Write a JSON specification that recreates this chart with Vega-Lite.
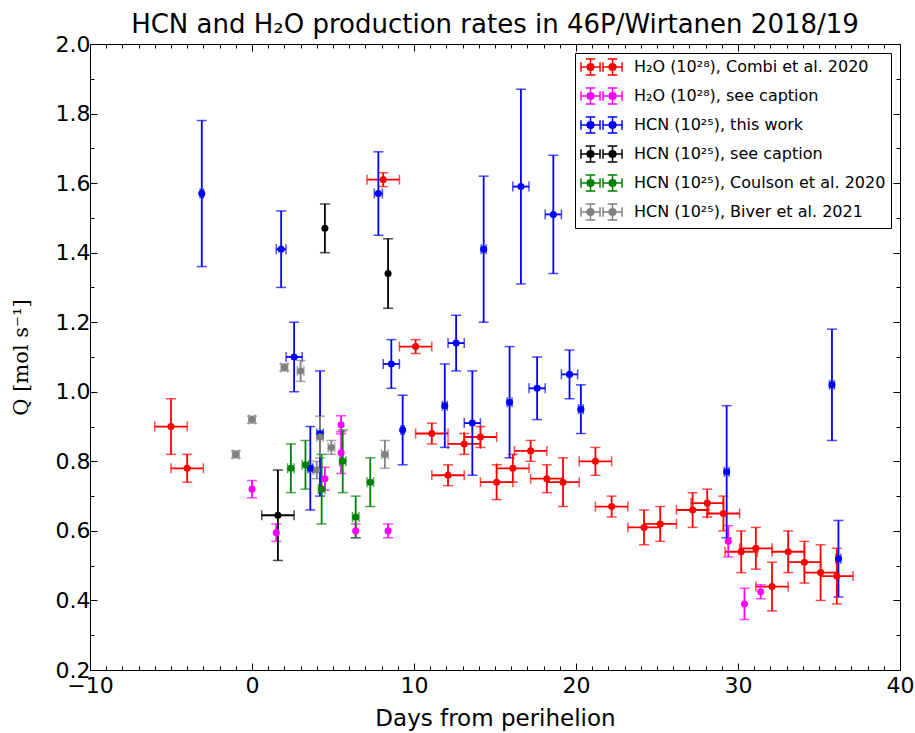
{
  "$schema": "https://vega.github.io/schema/vega-lite/v6.json",
  "width": 810,
  "height": 626,
  "autosize": {"type": "none"},
  "padding": {"left": 90, "top": 44, "right": 15, "bottom": 63},
  "background": "white",
  "title": {"text": "HCN and H₂O production rates in 46P/Wirtanen 2018/19", "font": "DejaVu Sans", "fontSize": 26, "fontWeight": "normal", "color": "black", "offset": -5},
  "config": {
    "view": {"stroke": null},
    "axis": {"domainColor": "black", "domainWidth": 1, "tickColor": "black", "tickWidth": 1, "labelFont": "DejaVu Sans", "labelFontSize": 22, "labelColor": "black", "titleFont": "DejaVu Sans", "titleFontSize": 22, "titleFontWeight": "normal", "titleColor": "black", "grid": false}
  },
  "data": {"values": [
    {"s": "H₂O (10²⁸), Combi et al. 2020", "d": -5.0, "q": 0.90, "qe": 0.08, "de": 1.0},
    {"s": "H₂O (10²⁸), Combi et al. 2020", "d": -4.0, "q": 0.78, "qe": 0.04, "de": 1.0},
    {"s": "H₂O (10²⁸), Combi et al. 2020", "d": 8.1, "q": 1.61, "qe": 0.02, "de": 1.0},
    {"s": "H₂O (10²⁸), Combi et al. 2020", "d": 10.1, "q": 1.13, "qe": 0.02, "de": 1.0},
    {"s": "H₂O (10²⁸), Combi et al. 2020", "d": 11.1, "q": 0.88, "qe": 0.03, "de": 1.0},
    {"s": "H₂O (10²⁸), Combi et al. 2020", "d": 12.1, "q": 0.76, "qe": 0.03, "de": 1.0},
    {"s": "H₂O (10²⁸), Combi et al. 2020", "d": 13.1, "q": 0.85, "qe": 0.03, "de": 1.0},
    {"s": "H₂O (10²⁸), Combi et al. 2020", "d": 14.1, "q": 0.87, "qe": 0.03, "de": 1.0},
    {"s": "H₂O (10²⁸), Combi et al. 2020", "d": 15.1, "q": 0.74, "qe": 0.05, "de": 1.0},
    {"s": "H₂O (10²⁸), Combi et al. 2020", "d": 16.1, "q": 0.78, "qe": 0.04, "de": 1.0},
    {"s": "H₂O (10²⁸), Combi et al. 2020", "d": 17.2, "q": 0.83, "qe": 0.03, "de": 1.0},
    {"s": "H₂O (10²⁸), Combi et al. 2020", "d": 18.2, "q": 0.75, "qe": 0.04, "de": 1.0},
    {"s": "H₂O (10²⁸), Combi et al. 2020", "d": 19.2, "q": 0.74, "qe": 0.07, "de": 1.0},
    {"s": "H₂O (10²⁸), Combi et al. 2020", "d": 21.2, "q": 0.80, "qe": 0.04, "de": 1.0},
    {"s": "H₂O (10²⁸), Combi et al. 2020", "d": 22.2, "q": 0.67, "qe": 0.03, "de": 1.0},
    {"s": "H₂O (10²⁸), Combi et al. 2020", "d": 24.2, "q": 0.61, "qe": 0.05, "de": 1.0},
    {"s": "H₂O (10²⁸), Combi et al. 2020", "d": 25.2, "q": 0.62, "qe": 0.05, "de": 1.0},
    {"s": "H₂O (10²⁸), Combi et al. 2020", "d": 27.2, "q": 0.66, "qe": 0.05, "de": 1.0},
    {"s": "H₂O (10²⁸), Combi et al. 2020", "d": 28.1, "q": 0.68, "qe": 0.04, "de": 1.0},
    {"s": "H₂O (10²⁸), Combi et al. 2020", "d": 29.1, "q": 0.65, "qe": 0.05, "de": 1.0},
    {"s": "H₂O (10²⁸), Combi et al. 2020", "d": 30.2, "q": 0.54, "qe": 0.06, "de": 1.0},
    {"s": "H₂O (10²⁸), Combi et al. 2020", "d": 31.1, "q": 0.55, "qe": 0.06, "de": 1.0},
    {"s": "H₂O (10²⁸), Combi et al. 2020", "d": 32.1, "q": 0.44, "qe": 0.07, "de": 1.0},
    {"s": "H₂O (10²⁸), Combi et al. 2020", "d": 33.1, "q": 0.54, "qe": 0.06, "de": 1.0},
    {"s": "H₂O (10²⁸), Combi et al. 2020", "d": 34.1, "q": 0.51, "qe": 0.06, "de": 1.0},
    {"s": "H₂O (10²⁸), Combi et al. 2020", "d": 35.1, "q": 0.48, "qe": 0.08, "de": 1.0},
    {"s": "H₂O (10²⁸), Combi et al. 2020", "d": 36.1, "q": 0.47, "qe": 0.08, "de": 1.0},
    {"s": "H₂O (10²⁸), see caption", "d": 0.0, "q": 0.72, "qe": 0.025, "de": 0},
    {"s": "H₂O (10²⁸), see caption", "d": 1.5, "q": 0.595, "qe": 0.025, "de": 0},
    {"s": "H₂O (10²⁸), see caption", "d": 4.5, "q": 0.75, "qe": 0.033, "de": 0},
    {"s": "H₂O (10²⁸), see caption", "d": 5.5, "q": 0.905, "qe": 0.026, "de": 0},
    {"s": "H₂O (10²⁸), see caption", "d": 5.5, "q": 0.825, "qe": 0.06, "de": 0},
    {"s": "H₂O (10²⁸), see caption", "d": 6.4, "q": 0.60, "qe": 0.02, "de": 0},
    {"s": "H₂O (10²⁸), see caption", "d": 8.4, "q": 0.60, "qe": 0.02, "de": 0},
    {"s": "H₂O (10²⁸), see caption", "d": 29.4, "q": 0.57, "qe": 0.045, "de": 0},
    {"s": "H₂O (10²⁸), see caption", "d": 30.4, "q": 0.39, "qe": 0.045, "de": 0},
    {"s": "H₂O (10²⁸), see caption", "d": 31.4, "q": 0.425, "qe": 0.02, "de": 0},
    {"s": "HCN (10²⁵), this work", "d": -3.1, "q": 1.57, "qe": 0.21, "de": 0.1},
    {"s": "HCN (10²⁵), this work", "d": 1.8, "q": 1.41, "qe": 0.11, "de": 0.3},
    {"s": "HCN (10²⁵), this work", "d": 2.6, "q": 1.10, "qe": 0.10, "de": 0.5},
    {"s": "HCN (10²⁵), this work", "d": 3.6, "q": 0.78, "qe": 0.12, "de": 0.15},
    {"s": "HCN (10²⁵), this work", "d": 4.2, "q": 0.88, "qe": 0.18, "de": 0.2},
    {"s": "HCN (10²⁵), this work", "d": 7.8, "q": 1.57, "qe": 0.12, "de": 0.25},
    {"s": "HCN (10²⁵), this work", "d": 8.6, "q": 1.08, "qe": 0.07, "de": 0.5},
    {"s": "HCN (10²⁵), this work", "d": 9.3, "q": 0.89, "qe": 0.10, "de": 0.1},
    {"s": "HCN (10²⁵), this work", "d": 11.9, "q": 0.96, "qe": 0.12, "de": 0.15},
    {"s": "HCN (10²⁵), this work", "d": 12.6, "q": 1.14, "qe": 0.08, "de": 0.5},
    {"s": "HCN (10²⁵), this work", "d": 13.6, "q": 0.91, "qe": 0.15, "de": 0.5},
    {"s": "HCN (10²⁵), this work", "d": 14.3, "q": 1.41, "qe": 0.21, "de": 0.15},
    {"s": "HCN (10²⁵), this work", "d": 15.9, "q": 0.97, "qe": 0.16, "de": 0.15},
    {"s": "HCN (10²⁵), this work", "d": 16.6, "q": 1.59, "qe": 0.28, "de": 0.5},
    {"s": "HCN (10²⁵), this work", "d": 17.6, "q": 1.01, "qe": 0.09, "de": 0.5},
    {"s": "HCN (10²⁵), this work", "d": 18.6, "q": 1.51, "qe": 0.17, "de": 0.5},
    {"s": "HCN (10²⁵), this work", "d": 19.6, "q": 1.05, "qe": 0.07, "de": 0.5},
    {"s": "HCN (10²⁵), this work", "d": 20.3, "q": 0.95, "qe": 0.07, "de": 0.15},
    {"s": "HCN (10²⁵), this work", "d": 29.3, "q": 0.77, "qe": 0.19, "de": 0.15},
    {"s": "HCN (10²⁵), this work", "d": 35.8, "q": 1.02, "qe": 0.16, "de": 0.15},
    {"s": "HCN (10²⁵), this work", "d": 36.2, "q": 0.52, "qe": 0.11, "de": 0.15},
    {"s": "HCN (10²⁵), see caption", "d": 1.6, "q": 0.645, "qe": 0.13, "de": 1.0},
    {"s": "HCN (10²⁵), see caption", "d": 4.5, "q": 1.47, "qe": 0.07, "de": 0},
    {"s": "HCN (10²⁵), see caption", "d": 8.4, "q": 1.34, "qe": 0.10, "de": 0},
    {"s": "HCN (10²⁵), Coulson et al. 2020", "d": 2.4, "q": 0.78, "qe": 0.07, "de": 0.2},
    {"s": "HCN (10²⁵), Coulson et al. 2020", "d": 3.3, "q": 0.79, "qe": 0.07, "de": 0.2},
    {"s": "HCN (10²⁵), Coulson et al. 2020", "d": 4.3, "q": 0.72, "qe": 0.10, "de": 0.2},
    {"s": "HCN (10²⁵), Coulson et al. 2020", "d": 5.6, "q": 0.80, "qe": 0.09, "de": 0.2},
    {"s": "HCN (10²⁵), Coulson et al. 2020", "d": 6.4, "q": 0.64, "qe": 0.06, "de": 0.2},
    {"s": "HCN (10²⁵), Coulson et al. 2020", "d": 7.3, "q": 0.74, "qe": 0.07, "de": 0.2},
    {"s": "HCN (10²⁵), Biver et al. 2021", "d": -1.0, "q": 0.82, "qe": 0.01, "de": 0.2},
    {"s": "HCN (10²⁵), Biver et al. 2021", "d": 0.0, "q": 0.92, "qe": 0.01, "de": 0.2},
    {"s": "HCN (10²⁵), Biver et al. 2021", "d": 2.0, "q": 1.07, "qe": 0.01, "de": 0.2},
    {"s": "HCN (10²⁵), Biver et al. 2021", "d": 3.0, "q": 1.06, "qe": 0.03, "de": 0.2},
    {"s": "HCN (10²⁵), Biver et al. 2021", "d": 4.2, "q": 0.87, "qe": 0.06, "de": 0.2},
    {"s": "HCN (10²⁵), Biver et al. 2021", "d": 4.9, "q": 0.84, "qe": 0.02, "de": 0.2},
    {"s": "HCN (10²⁵), Biver et al. 2021", "d": 4.0, "q": 0.775, "qe": 0.025, "de": 0.2},
    {"s": "HCN (10²⁵), Biver et al. 2021", "d": 8.2, "q": 0.82, "qe": 0.04, "de": 0.2}
  ]},
  "resolve": {"axis": {"x": "independent", "y": "independent"}},
  "layer": [
    {
      "transform": [{"filter": "datum.de > 0"}],
      "mark": {"type": "errorbar", "thickness": 1.8, "ticks": {"size": 10, "thickness": 1.5}},
      "encoding": {
        "x": {"field": "d", "type": "quantitative", "scale": {"domain": [-10, 40], "nice": false, "zero": false}, "axis": null},
        "xError": {"field": "de"},
        "y": {"field": "q", "type": "quantitative", "scale": {"domain": [0.2, 2.0], "nice": false, "zero": false}, "axis": null},
        "color": {"field": "s", "type": "nominal", "scale": {"domain": ["H₂O (10²⁸), Combi et al. 2020", "H₂O (10²⁸), see caption", "HCN (10²⁵), this work", "HCN (10²⁵), see caption", "HCN (10²⁵), Coulson et al. 2020", "HCN (10²⁵), Biver et al. 2021"], "range": ["#ff0000", "#ff00ff", "#0000ff", "#000000", "#008000", "#808080"]},
          "legend": {"orient": "top-right", "offset": 9, "title": null, "strokeColor": "black", "fillColor": "white", "padding": 5,
            "labelFont": "DejaVu Sans", "labelFontSize": 16, "labelColor": "black", "labelOffset": 36, "labelLimit": 400, "rowPadding": 7,
            "symbolSize": 256, "symbolStrokeWidth": 1.5,
            "symbolType": "M-1,0L1.38,0M-1,-0.6L-1,0.6M1.38,-0.6L1.38,0.6M0.19,-1L0.19,1M-0.41,-1L0.79,-1M-0.41,1L0.79,1M0.61,0A0.42,0.42,0,1,1,-0.23,0A0.42,0.42,0,1,1,0.61,0ZM1.75,0L4.13,0M1.75,-0.6L1.75,0.6M4.13,-0.6L4.13,0.6M2.94,-1L2.94,1M2.34,-1L3.54,-1M2.34,1L3.54,1M3.36,0A0.42,0.42,0,1,1,2.52,0A0.42,0.42,0,1,1,3.36,0Z",
            "encode": {"symbols": {"update": {"stroke": {"scale": "color", "field": "value"}, "fill": {"scale": "color", "field": "value"}, "strokeWidth": {"value": 1.5}, "opacity": {"value": 1}}}}}}
      }
    },
    {
      "mark": {"type": "errorbar", "thickness": 1.8, "ticks": {"size": 10, "thickness": 1.5}},
      "encoding": {
        "x": {"field": "d", "type": "quantitative", "scale": {"domain": [-10, 40], "nice": false, "zero": false}, "axis": null},
        "y": {"field": "q", "type": "quantitative", "scale": {"domain": [0.2, 2.0], "nice": false, "zero": false}, "axis": null},
        "yError": {"field": "qe"},
        "color": {"field": "s", "type": "nominal"}
      }
    },
    {
      "mark": {"type": "point", "filled": true, "opacity": 1, "size": 50, "shape": "circle"},
      "encoding": {
        "x": {"field": "d", "type": "quantitative", "scale": {"domain": [-10, 40], "nice": false, "zero": false},
          "axis": {"orient": "bottom", "values": [-10,-9,-8,-7,-6,-5,-4,-3,-2,-1,0,1,2,3,4,5,6,7,8,9,10,11,12,13,14,15,16,17,18,19,20,21,22,23,24,25,26,27,28,29,30,31,32,33,34,35,36,37,38,39,40],
            "format": "d", "labelExpr": "datum.value % 10 === 0 ? datum.label : ''", "labelFlush": false, "labelOverlap": false, "labelBound": false,
            "tickSize": {"condition": {"test": "datum.value % 10 === 0", "value": -7}, "value": -4},
            "labelPadding": 12, "title": "Days from perihelion", "titleFontSize": 23, "titlePadding": 8}},
        "y": {"field": "q", "type": "quantitative", "scale": {"domain": [0.2, 2.0], "nice": false, "zero": false},
          "axis": {"orient": "left", "values": [0.2,0.3,0.4,0.5,0.6,0.7,0.8,0.9,1.0,1.1,1.2,1.3,1.4,1.5,1.6,1.7,1.8,1.9,2.0],
            "labelExpr": "round(datum.value * 10) % 2 === 0 ? format(datum.value, '.1f') : ''", "labelFlush": false, "labelOverlap": false, "labelBound": false,
            "tickSize": {"condition": {"test": "round(datum.value * 10) % 2 === 0", "value": -7}, "value": -4},
            "labelPadding": 7, "title": "Q  [mol s⁻¹]", "titleFont": "DejaVu Serif", "titleFontSize": 21, "titlePadding": 24}},
        "color": {"field": "s", "type": "nominal"}
      }
    },
    {
      "mark": {"type": "point", "opacity": 0},
      "encoding": {
        "x": {"field": "d", "type": "quantitative", "scale": {"domain": [-10, 40], "nice": false, "zero": false},
          "axis": {"orient": "top", "values": [-10,-9,-8,-7,-6,-5,-4,-3,-2,-1,0,1,2,3,4,5,6,7,8,9,10,11,12,13,14,15,16,17,18,19,20,21,22,23,24,25,26,27,28,29,30,31,32,33,34,35,36,37,38,39,40],
            "labels": false, "title": null,
            "tickSize": {"condition": {"test": "datum.value % 10 === 0", "value": -7}, "value": -4}}},
        "y": {"field": "q", "type": "quantitative", "scale": {"domain": [0.2, 2.0], "nice": false, "zero": false},
          "axis": {"orient": "right", "values": [0.2,0.3,0.4,0.5,0.6,0.7,0.8,0.9,1.0,1.1,1.2,1.3,1.4,1.5,1.6,1.7,1.8,1.9,2.0],
            "labels": false, "title": null,
            "tickSize": {"condition": {"test": "round(datum.value * 10) % 2 === 0", "value": -7}, "value": -4}}}
      }
    }
  ]
}
